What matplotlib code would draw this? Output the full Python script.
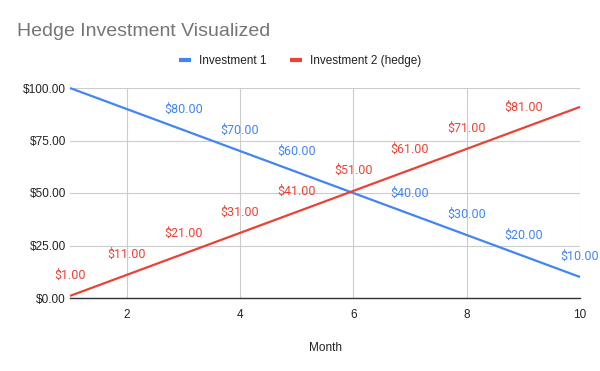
import matplotlib
matplotlib.use("Agg")
import matplotlib.pyplot as plt
from matplotlib.ticker import FuncFormatter

# data
months = [1, 2, 3, 4, 5, 6, 7, 8, 9, 10]
investment_1 = [100, 90, 80, 70, 60, 50, 40, 30, 20, 10]
investment_2 = [1, 11, 21, 31, 41, 51, 61, 71, 81, 91]
# which points carry a visible data label in the reference
labels_1 = [3, 4, 5, 7, 8, 9, 10]
labels_2 = [1, 2, 3, 4, 5, 6, 7, 8, 9]

BLUE = "#4285F4"
RED = "#EA4335"

fig = plt.figure(figsize=(6, 3.71), dpi=100)
ax = fig.add_axes([70 / 600, 1 - 298 / 371, 510 / 600, 210 / 371])

ax.plot(months, investment_1, color=BLUE, lw=1.6, label="Investment 1",
        solid_capstyle="butt", clip_on=False, zorder=3)
ax.plot(months, investment_2, color=RED, lw=1.6, label="Investment 2 (hedge)",
        solid_capstyle="butt", clip_on=False, zorder=3)

def add_labels(xs, ys, keep, color):
    for x, y in zip(xs, ys):
        if x not in keep:
            continue
        ax.annotate(f"${y:.2f}", (x, y), xytext=(0, 15), textcoords="offset points",
                    ha="center", va="center", color=color, fontsize=9,
                    family="Roboto", annotation_clip=False, zorder=4)

add_labels(months, investment_1, labels_1, BLUE)
add_labels(months, investment_2, labels_2, RED)

ax.set_xlim(1, 10)
ax.set_ylim(0, 100)
ax.set_xticks([2, 4, 6, 8, 10])
ax.set_yticks([0, 25, 50, 75, 100])
ax.yaxis.set_major_formatter(FuncFormatter(lambda v, p: f"${v:.2f}"))
ax.grid(True, color="#cccccc", lw=0.8)
ax.set_axisbelow(True)

for s in ["left", "top", "right"]:
    ax.spines[s].set_visible(False)
ax.spines["bottom"].set_color("#333333")
ax.spines["bottom"].set_linewidth(1.0)
ax.tick_params(axis="y", length=0, labelsize=8.5, colors="#222222", pad=3)
ax.tick_params(axis="x", length=0, labelsize=8.5, colors="#222222", pad=8)
for t in ax.get_xticklabels() + ax.get_yticklabels():
    t.set_family("Liberation Sans")

ax.set_xlabel("Month", fontsize=8.5, family="Liberation Sans", color="#222222", labelpad=15)

fig.text(17 / 600, 1 - 32 / 371, "Hedge Investment Visualized", fontsize=14,
         family="Liberation Sans", color="#757575", va="center", ha="left")

leg = fig.legend(loc="center", bbox_to_anchor=(0.5, 1 - 61 / 371), ncol=2, frameon=False,
                 prop={"family": "Liberation Sans", "size": 8.5}, handlelength=1.0,
                 handletextpad=0.7, columnspacing=2.0)
for line in leg.get_lines():
    line.set_linewidth(3)
for t in leg.get_texts():
    t.set_color("#222222")

fig.savefig("out.png", dpi=100)
